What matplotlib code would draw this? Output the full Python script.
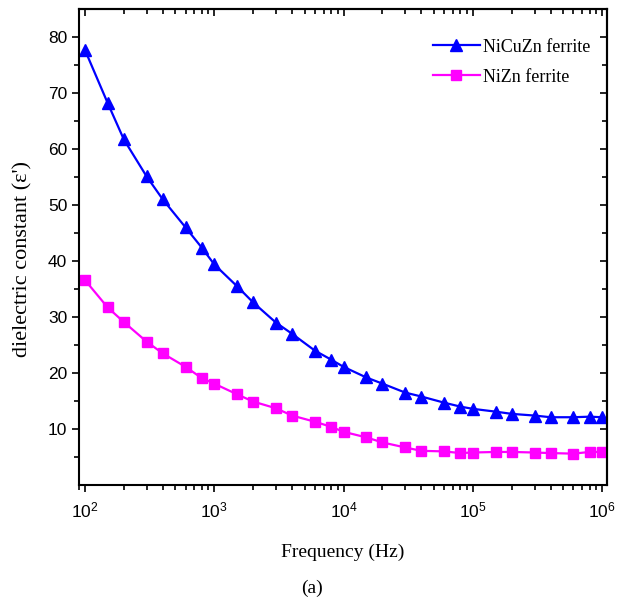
import matplotlib
matplotlib.use("Agg")
import matplotlib.pyplot as plt
from matplotlib.ticker import LogLocator, FixedLocator, NullFormatter, LogFormatterSciNotation

freq = [100, 150, 200, 300, 400, 600, 800, 1e3, 1.5e3, 2e3, 3e3, 4e3, 6e3, 8e3,
        1e4, 1.5e4, 2e4, 3e4, 4e4, 6e4, 8e4, 1e5, 1.5e5, 2e5, 3e5, 4e5, 6e5, 8e5, 1e6]
nicuzn = [77.7, 68.2, 61.7, 55.1, 51.0, 46.0, 42.4, 39.4, 35.5, 32.6, 29.0, 27.0, 24.0, 22.4,
          21.1, 19.2, 18.1, 16.5, 15.8, 14.7, 14.0, 13.6, 13.1, 12.7, 12.4, 12.1, 12.1, 12.2, 12.1]
nizn = [36.6, 31.7, 29.1, 25.6, 23.5, 21.1, 19.1, 18.1, 16.2, 14.9, 13.7, 12.4, 11.3, 10.4,
        9.5, 8.5, 7.6, 6.7, 6.1, 6.0, 5.7, 5.8, 5.9, 5.9, 5.8, 5.7, 5.6, 5.9, 5.9]
series_labels = ["NiCuZn ferrite", "NiZn ferrite"]
y_ticks = [10, 20, 30, 40, 50, 60, 70, 80]
y_minor = [5, 15, 25, 35, 45, 55, 65, 75]

plt.rcParams['mathtext.fontset'] = 'custom'
plt.rcParams['mathtext.rm'] = 'Liberation Sans'
plt.rcParams['mathtext.it'] = 'Liberation Sans'

fig = plt.figure(figsize=(6.24, 5.98), dpi=100)
ax = fig.add_axes([79/624, 1 - 485/598, (607-79)/624, (485-9)/598])

ax.plot(freq, nicuzn, color='#0000ff', marker='^', markersize=8.5, lw=1.6,
        label=series_labels[0])
ax.plot(freq, nizn, color='#ff00ff', marker='s', markersize=7.5, lw=1.6,
        label=series_labels[1])

ax.set_xscale('log')
ax.set_xlim(90, 1.09e6)
ax.set_ylim(0, 85)
ax.yaxis.set_major_locator(FixedLocator(y_ticks))
ax.yaxis.set_minor_locator(FixedLocator(y_minor))
ax.xaxis.set_major_locator(LogLocator(base=10, numticks=10))
ax.xaxis.set_minor_locator(LogLocator(base=10, subs=range(2, 10), numticks=50))
ax.xaxis.set_minor_formatter(NullFormatter())
ax.xaxis.set_major_formatter(LogFormatterSciNotation())

for sp in ax.spines.values():
    sp.set_linewidth(1.5)

ax.tick_params(which='both', direction='out', width=1.2, labelsize=12.5,
               top=False, right=False)
ax.tick_params(which='major', length=5)
ax.tick_params(which='minor', length=3.5)
for lab in ax.get_xticklabels() + ax.get_yticklabels():
    lab.set_fontfamily('Liberation Sans')
ax.tick_params(axis='x', pad=6)

# mirrored inward ticks on top and right
secx = ax.secondary_xaxis('top')
secx.set_xscale('log')
secx.xaxis.set_major_locator(LogLocator(base=10, numticks=10))
secx.xaxis.set_minor_locator(LogLocator(base=10, subs=range(2, 10), numticks=50))
secx.tick_params(which='both', direction='in', labeltop=False, width=1.2)
secx.tick_params(which='major', length=5)
secx.tick_params(which='minor', length=3.5)
secx.xaxis.set_minor_formatter(NullFormatter())
secx.xaxis.set_major_formatter(NullFormatter())
secy = ax.secondary_yaxis('right')
secy.yaxis.set_major_locator(FixedLocator(y_ticks))
secy.yaxis.set_minor_locator(FixedLocator(y_minor))
secy.tick_params(which='both', direction='in', labelright=False, width=1.2)
secy.tick_params(which='major', length=5)
secy.tick_params(which='minor', length=3.5)
for s in (secx, secy):
    for sp in s.spines.values():
        sp.set_linewidth(1.5)

ax.set_xlabel('Frequency (Hz)', fontfamily='Liberation Serif', fontsize=14, labelpad=17)
ax.set_ylabel("dielectric constant (ε')", fontfamily='Liberation Serif', fontsize=16)
ax.yaxis.set_label_coords(-0.088, 0.475)

ax.legend(loc='upper right', frameon=False, prop={'family': 'Liberation Serif', 'size': 13},
          handlelength=2.6, handletextpad=0.2, labelspacing=0.72,
          borderaxespad=0.5, bbox_to_anchor=(1.0, 0.972))

fig.text(312/624, 1 - 588/598, '(a)', ha='center', va='center',
         fontfamily='Liberation Serif', fontsize=14)

fig.savefig('out.png', dpi=100)
